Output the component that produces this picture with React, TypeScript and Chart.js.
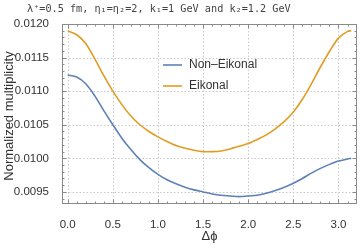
import React, { useEffect, useRef } from "react";
import { Chart, registerables } from "chart.js";

Chart.register(...registerables);

const xValues = [0, 0.1, 0.2, 0.3, 0.4, 0.5, 0.6, 0.7, 0.8, 0.9, 1.0, 1.1, 1.2, 1.3, 1.4, 1.5, 1.6, 1.7, 1.8, 1.9, 2.0, 2.1, 2.2, 2.3, 2.4, 2.5, 2.6, 2.7, 2.8, 2.9, 3.0, 3.1, 3.1416];
const nonEikonal = [0.01124, 0.01121, 0.01111, 0.01093, 0.01071, 0.0105, 0.0103, 0.01013, 0.00998, 0.00986, 0.00976, 0.00968, 0.00962, 0.00957, 0.00953, 0.0095, 0.00947, 0.00945, 0.00944, 0.00943, 0.00944, 0.00945, 0.00948, 0.00952, 0.00957, 0.00963, 0.0097, 0.00978, 0.00985, 0.00991, 0.00996, 0.00999, 0.01];
const eikonal = [0.0119, 0.01184, 0.01171, 0.01148, 0.01123, 0.011, 0.0108, 0.01063, 0.0105, 0.0104, 0.01032, 0.01025, 0.01019, 0.01015, 0.01012, 0.0101, 0.0101, 0.01011, 0.01014, 0.01018, 0.01022, 0.01028, 0.01035, 0.01044, 0.01055, 0.01069, 0.01088, 0.01111, 0.01136, 0.01159, 0.01179, 0.01189, 0.0119];
const seriesNames = ["Non\u2013Eikonal", "Eikonal"];
const seriesColors = ["#5E81B5", "#E19C24"];
const xTicks = [0, 0.5, 1.0, 1.5, 2.0, 2.5, 3.0];
const yTicks = [0.0095, 0.01, 0.0105, 0.011, 0.0115, 0.012];
const titleText = "\u03bb\u207a=0.5 fm, \u03b7\u2081=\u03b7\u2082=2, k\u2081=1 GeV and k\u2082=1.2 GeV";
const xTitle = "\u0394\u03d5";
const yTitle = "Normalized multiplicity";

const X_MIN = -0.063, X_MAX = 3.205, Y_MIN = 0.00932, Y_MAX = 0.0120;

const framePlugin = {
  id: "frame",
  beforeDatasetsDraw(chart: any) {
    const { ctx, chartArea: a, scales } = chart;
    const xs = scales.x, ys = scales.y;
    ctx.save();
    ctx.strokeStyle = "#c8c8c8";
    ctx.lineWidth = 1;
    ctx.setLineDash([1.5, 2]);
    xTicks.forEach((v) => {
      const px = Math.round(xs.getPixelForValue(v)) + 0.5;
      ctx.beginPath(); ctx.moveTo(px, a.top); ctx.lineTo(px, a.bottom); ctx.stroke();
    });
    yTicks.forEach((v) => {
      const py = Math.round(ys.getPixelForValue(v)) + 0.5;
      ctx.beginPath(); ctx.moveTo(a.left, py); ctx.lineTo(a.right, py); ctx.stroke();
    });
    ctx.setLineDash([]);
    ctx.restore();
  },
  afterDatasetsDraw(chart: any) {
    const { ctx, chartArea: a, scales } = chart;
    const xs = scales.x, ys = scales.y;
    ctx.save();
    ctx.strokeStyle = "#8a8a8a";
    ctx.lineWidth = 1;
    const L = Math.round(a.left) + 0.5, R = Math.round(a.right) - 0.5;
    const T = Math.round(a.top) + 0.5, B = Math.round(a.bottom) - 0.5;
    ctx.strokeRect(L, T, R - L, B - T);
    for (let i = 0; i <= 32; i++) {
      const v = i / 10;
      const px = Math.round(xs.getPixelForValue(v)) + 0.5;
      if (px < L || px > R) continue;
      const len = i % 5 === 0 ? 4 : 2;
      ctx.beginPath(); ctx.moveTo(px, B); ctx.lineTo(px, B - len); ctx.stroke();
      ctx.beginPath(); ctx.moveTo(px, T); ctx.lineTo(px, T + len); ctx.stroke();
    }
    for (let i = 93; i <= 120; i++) {
      const v = i / 10000;
      const py = Math.round(ys.getPixelForValue(v)) + 0.5;
      if (py < T || py > B) continue;
      const len = i % 5 === 0 ? 4 : 2;
      ctx.beginPath(); ctx.moveTo(L, py); ctx.lineTo(L + len, py); ctx.stroke();
      ctx.beginPath(); ctx.moveTo(R, py); ctx.lineTo(R - len, py); ctx.stroke();
    }
    ctx.lineWidth = 1.6;
    const lx = 163, ly = [65, 86];
    seriesNames.forEach((n, i) => {
      ctx.strokeStyle = seriesColors[i];
      ctx.beginPath(); ctx.moveTo(lx, ly[i]); ctx.lineTo(lx + 19, ly[i]); ctx.stroke();
      ctx.fillStyle = "#333";
      ctx.font = "12px 'Liberation Sans', Arial, sans-serif";
      ctx.textBaseline = "middle";
      ctx.textAlign = "left";
      ctx.fillText(n, lx + 26, ly[i]);
    });
    ctx.fillStyle = "#444";
    ctx.font = "10.2px 'DejaVu Sans Mono', monospace";
    ctx.textAlign = "left";
    ctx.textBaseline = "middle";
    ctx.fillText(titleText, 27, 9);
    ctx.textAlign = "center";
    ctx.fillStyle = "#333";
    ctx.font = "13px 'Liberation Sans', Arial, sans-serif";
    ctx.fillText(xTitle, (a.left + a.right) / 2, 236);
    ctx.save();
    ctx.translate(9, (a.top + a.bottom) / 2 + 2);
    ctx.rotate(-Math.PI / 2);
    ctx.fillText(yTitle, 0, 0);
    ctx.restore();
    ctx.restore();
  },
};

export default function App() {
  const ref = useRef<HTMLCanvasElement>(null);
  useEffect(() => {
    document.body.style.margin = "0";
    const chart = new Chart(ref.current!, {
      type: "line",
      data: {
        datasets: [
          { label: seriesNames[0], data: xValues.map((x, i) => ({ x, y: nonEikonal[i] })), borderColor: seriesColors[0], borderWidth: 1.6, pointRadius: 0, tension: 0.3, fill: false },
          { label: seriesNames[1], data: xValues.map((x, i) => ({ x, y: eikonal[i] })), borderColor: seriesColors[1], borderWidth: 1.6, pointRadius: 0, tension: 0.3, fill: false },
        ],
      },
      options: {
        animation: false,
        responsive: false,
        devicePixelRatio: 1,
        layout: { padding: { top: 24, right: 3, left: 0, bottom: 0 } },
        plugins: { legend: { display: false }, tooltip: { enabled: false }, title: { display: false } },
        scales: {
          x: {
            type: "linear", min: X_MIN, max: X_MAX,
            grid: { display: false }, border: { display: false },
            afterFit: (s: any) => { s.height = 46; },
            afterBuildTicks: (s: any) => { s.ticks = xTicks.map((v) => ({ value: v })); },
            ticks: { padding: 6, color: "#333", font: { family: "'Liberation Sans', Arial, sans-serif", size: 11.5 }, callback: (v: any) => Number(v).toFixed(1), maxRotation: 0 },
          },
          y: {
            type: "linear", min: Y_MIN, max: Y_MAX,
            grid: { display: false }, border: { display: false },
            afterFit: (s: any) => { s.width = 62; },
            afterBuildTicks: (s: any) => { s.ticks = yTicks.map((v) => ({ value: v })); },
            ticks: { padding: 5, color: "#333", font: { family: "'Liberation Sans', Arial, sans-serif", size: 11.5 }, callback: (v: any) => Number(v).toFixed(4) },
          },
        },
      },
      plugins: [framePlugin],
    } as any);
    return () => chart.destroy();
  }, []);
  return <canvas ref={ref} width={360} height={250} style={{ display: "block" }} />;
}
